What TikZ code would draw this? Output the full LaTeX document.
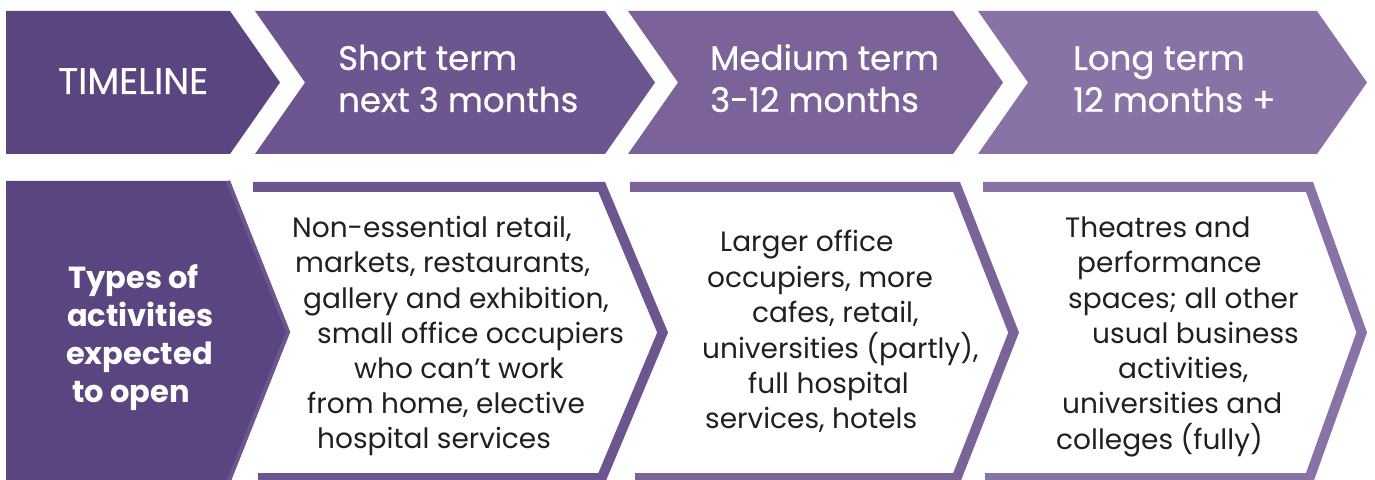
\documentclass[tikz,border=0pt]{standalone}
\usepackage{fontspec}
\setmainfont{Poppins}
\newfontfamily\medfont{Poppins}[FakeBold=0.6]
\definecolor{pA}{HTML}{5A4580}
\definecolor{pB}{HTML}{6D5690}
\definecolor{pC}{HTML}{7B6399}
\definecolor{pD}{HTML}{8973A6}
\definecolor{txtdark}{HTML}{231F20}
\tikzset{
  toptxt/.style={text=white, inner sep=0pt, anchor=base west, font=\medfont\fontsize{34bp}{42bp}\selectfont},
  titletxt/.style={text=white, inner sep=0pt, anchor=base west, font=\medfont\fontsize{37bp}{42bp}\selectfont},
  bodytxt/.style={text=txtdark, inner sep=0pt, anchor=base west, font=\fontsize{28bp}{35bp}\selectfont},
  boldtxt/.style={text=white, inner sep=0pt, anchor=base west, font=\bfseries\fontsize{30.5bp}{38bp}\selectfont},
  band/.style={line width=10bp, miter limit=10, line join=miter}
}
\newcommand\ind[1]{\hspace*{#1bp}}
\begin{document}
\begin{tikzpicture}[x=1bp,y=-1bp]
\useasboundingbox (0,0) rectangle (1375,480);
% ---------- top row ----------
\fill[pA] (6,11) -- (230,11) -- (280,82.5) -- (230,154) -- (6,154) -- cycle;
\fill[pB] (255,11) -- (605,11) -- (655,82.5) -- (605,154) -- (255,154) -- (305,82.5) -- cycle;
\fill[pC] (628,11) -- (953,11) -- (1003,82.5) -- (953,154) -- (628,154) -- (678,82.5) -- cycle;
\fill[pD] (978,11) -- (1317,11) -- (1367,82.5) -- (1317,154) -- (978,154) -- (1028,82.5) -- cycle;
\node[titletxt] (timeline) at (58,94) {TIMELINE};
\node[toptxt] (short) at (338,70) {\begin{tabular}[t]{@{}l@{}}Short term\\next 3 months\end{tabular}};
\node[toptxt] (medium) at (710,70) {\begin{tabular}[t]{@{}l@{}}Medium term\\3-12 months\end{tabular}};
\node[toptxt] (long) at (1073,70) {\begin{tabular}[t]{@{}l@{}}Long term\\12 months +\end{tabular}};
% ---------- bottom row ----------
\fill[pA] (6,181) -- (230,181) -- (290,332) -- (230,483) -- (6,483) -- cycle;
\draw[pB, line width=4bp] (228,181) -- (288,332) -- (228,483);
% chevron 1
\fill[white] (253,182) -- (605,182) -- (668,332.5) -- (605,483) -- (258,483) -- (315,332.5) -- cycle;
\draw[pB, band] (253,187) -- (601.7,187) -- (662.6,332.5) -- (601.7,478) -- (258,478);
% chevron 2
\fill[white] (630,182) -- (960,182) -- (1019,332.5) -- (960,483) -- (635,483) -- (690,332.5) -- cycle;
\draw[pC, band] (630,187) -- (956.6,187) -- (1013.6,332.5) -- (956.6,478) -- (635,478);
% chevron 3
\fill[white] (983,182) -- (1313,182) -- (1367,332.5) -- (1313,483) -- (985,483) -- (1041,332.5) -- cycle;
\draw[pD, band] (983,187) -- (1309.5,187) -- (1361.7,332.5) -- (1309.5,478) -- (985,478);
% texts
\node[boldtxt] (types) at (66,288) {\begin{tabular}[t]{@{}l@{}}\ind{2}Types of\\\ind{1}activities\\expected\\\ind{6}to open\end{tabular}};
\node[bodytxt] (act1) at (292,238) {\begin{tabular}[t]{@{}l@{}}Non-essential retail,\\\ind{3}markets, restaurants,\\\ind{11}gallery and exhibition,\\\ind{25}small office occupiers\\\ind{62}who can’t work\\\ind{15}from home, elective\\\ind{25}hospital services\end{tabular}};
\node[bodytxt] (act2) at (702,252) {\begin{tabular}[t]{@{}l@{}}\ind{18}Larger office\\\ind{5}occupiers, more\\\ind{50}cafes, retail,\\universities (partly),\\\ind{46}full hospital\\\ind{3}services, hotels\end{tabular}};
\node[bodytxt] (act3) at (1056,238) {\begin{tabular}[t]{@{}l@{}}\ind{9}Theatres and\\\ind{21}performance\\\ind{12}spaces; all other\\\ind{36}usual business\\\ind{62}activities,\\\ind{6}universities and\\colleges (fully)\end{tabular}};
\end{tikzpicture}
\end{document}
